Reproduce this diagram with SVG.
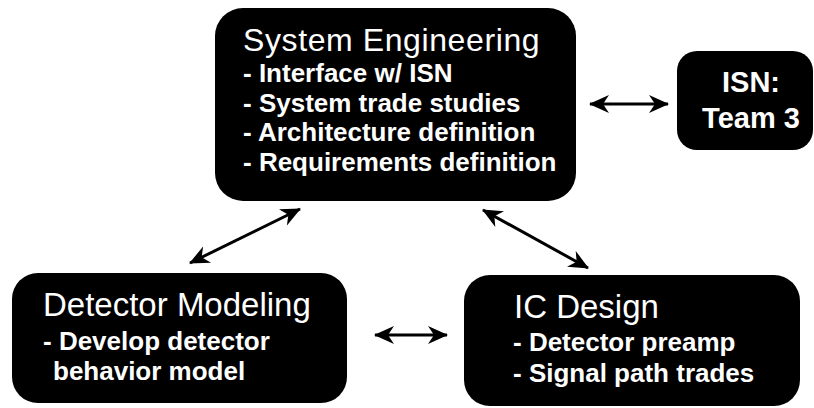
<svg xmlns="http://www.w3.org/2000/svg" width="814" height="408" viewBox="0 0 814 408">
<defs>
<style>
.box{fill:#000;}
.t{font-family:"Liberation Sans",Arial,sans-serif;fill:#fff;}
.h{font-size:33px;font-weight:normal;}
.b{font-size:26px;font-weight:bold;}
.isn{font-size:29px;font-weight:bold;text-anchor:middle;}
.c{stroke:#000;stroke-width:3;fill:none;marker-start:url(#ah);marker-end:url(#ah);}
</style>
<marker id="ah" viewBox="0 0 20 20" refX="19" refY="10" markerWidth="20" markerHeight="20" markerUnits="userSpaceOnUse" orient="auto-start-reverse">
<path d="M0,1 L20,10 L0,19 L6,10 z" fill="#000"/>
</marker>
</defs>
<rect width="814" height="408" fill="#fff"/>
<g id="system-engineering">
<rect class="box" x="215" y="8" width="361" height="193" rx="28"/>
<text class="t h" x="243" y="51" style="font-size:32px;letter-spacing:0.6px">System Engineering</text>
<text class="t b" x="243" y="82">- Interface w/ ISN</text>
<text class="t b" x="243" y="112">- System trade studies</text>
<text class="t b" x="243" y="141">- Architecture definition</text>
<text class="t b" x="243" y="171">- Requirements definition</text>
</g>
<g id="isn-team3">
<rect class="box" x="677" y="51" width="136" height="99" rx="20"/>
<text class="t isn" x="751" y="92">ISN:</text>
<text class="t isn" x="751" y="128">Team 3</text>
</g>
<g id="detector-modeling">
<rect class="box" x="12" y="273" width="335" height="130" rx="26"/>
<text class="t h" x="43" y="316">Detector Modeling</text>
<text class="t b" x="43" y="350">- Develop detector</text>
<text class="t b" x="53" y="380">behavior model</text>
</g>
<g id="ic-design">
<rect class="box" x="464" y="275" width="336" height="131" rx="26"/>
<text class="t h" x="514" y="318">IC Design</text>
<text class="t b" x="513" y="351">- Detector preamp</text>
<text class="t b" x="513" y="382">- Signal path trades</text>
</g>
<g id="connectors">
<line class="c" x1="590" y1="104" x2="668" y2="104"/>
<line class="c" x1="300" y1="209" x2="190" y2="263"/>
<line class="c" x1="483" y1="210" x2="588" y2="268"/>
<line class="c" x1="375" y1="335" x2="447" y2="335"/>
</g>
</svg>
